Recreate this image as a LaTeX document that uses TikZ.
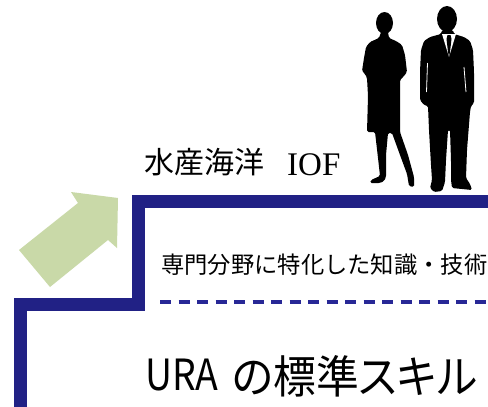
\documentclass[tikz,border=0pt]{standalone}
\usepackage{fontspec}
\newfontfamily\jpfont{Noto Sans CJK JP}
\newfontfamily\jppfont[RawFeature={+palt}]{Noto Sans CJK JP}
\newfontfamily\seriffont{Liberation Serif}
\definecolor{stairblue}{RGB}{33,33,133}
\definecolor{dashblue}{RGB}{40,40,150}
\definecolor{arrowgreen}{RGB}{201,217,168}
\tikzset{
  stair/.style={draw=stairblue, line width=13pt, line join=miter},
  levelrule/.style={draw=dashblue, line width=4pt, dash pattern=on 11pt off 7.5pt},
  label/.style={inner sep=0pt, anchor=base west, text=black},
  figure/.style={fill=black, rounded corners=1.5pt},
}
\begin{document}
\begin{tikzpicture}[x=1pt, y=-1pt]
\useasboundingbox (0,0) rectangle (488,407);
\clip (0,0) rectangle (488,407);
\fill[white] (0,0) rectangle (488,407);

% step outline
\coordinate (s0) at (20,420);
\coordinate (s1) at (20,304);
\coordinate (s2) at (138,304);
\coordinate (s3) at (138,201.5);
\coordinate (s4) at (500,201.5);
\draw[stair] (s0) -- (s1) -- (s2) -- (s3) -- (s4);

% dashed divider on the upper step
\coordinate (d0) at (160,302);
\coordinate (d1) at (490,302);
\draw[levelrule] (d0) -- (d1);

% rising arrow
\fill[arrowgreen] (19,250) -- (78,203) -- (71,192) -- (118,198) -- (117,248) -- (108,240) -- (50,287) -- cycle;

% labels
\node[label] (top) at (144,173) {\jpfont\fontsize{30}{30}\selectfont 水産海洋};
\node[label] (iof) at (287,175) {\seriffont\fontsize{33}{33}\selectfont IOF};
\node[label] (mid) at (161,273.5) {\jpfont\fontsize{23.3}{23.3}\selectfont 専門分野に特化した知識・技術};
\node[label, xscale=0.87] (ura) at (145,390) {\jpfont\fontsize{43}{43}\selectfont URA};
\node[label, xscale=0.95] (base) at (232,393) {\jppfont\fontsize{45}{45}\selectfont の標準スキル};

% woman
\fill[black] (384.5,23) ellipse [x radius=8.5, y radius=11];
\fill[figure] (381,32) -- (379,38) -- (370,42) -- (366,47) -- (364,58) -- (362,71) -- (365,74) -- (367,78)
  -- (368,96) -- (367,132) -- (375,132) -- (378,158) -- (380,176) -- (371,180) -- (370,183) -- (380,183)
  -- (384,181) -- (386,177) -- (386,155) -- (388,133) -- (392,133) -- (400,155) -- (407,174) -- (409,186)
  -- (414,187) -- (414,177) -- (408,155) -- (400,132) -- (400,96) -- (400,80) -- (404,76) -- (407,72)
  -- (405,55) -- (402,45) -- (396,41) -- (389,38) -- (388,32) -- cycle;

% man
\fill[black] (447,19) ellipse [x radius=10, y radius=13];
\fill[figure] (442,30) -- (441,34) -- (430,37) -- (424,41) -- (421,50) -- (420,72) -- (420,100) -- (424,105)
  -- (428,106) -- (429,130) -- (431,165) -- (432,180) -- (430,188) -- (434,192) -- (442,191) -- (445,182)
  -- (446,160) -- (448,130) -- (450,130) -- (451,160) -- (451,180) -- (452,188) -- (472,190) -- (470,184)
  -- (466,178) -- (467,150) -- (470,112) -- (471,106) -- (474,103) -- (474,72) -- (473,50) -- (470,41)
  -- (464,37) -- (454,34) -- (453,30) -- cycle;
\fill[white] (442,34) -- (449,57) -- (456,34) -- cycle;
\fill[black] (447.5,35) -- (446.5,39) -- (448,52) -- (449,57) -- (450,52) -- (451.5,39) -- (450.5,35) -- cycle;
\draw[white, line width=0.8pt] (427.5,63) -- (426.5,92);
\draw[white, line width=0.8pt] (464,67) -- (466,92);
\end{tikzpicture}
\end{document}
